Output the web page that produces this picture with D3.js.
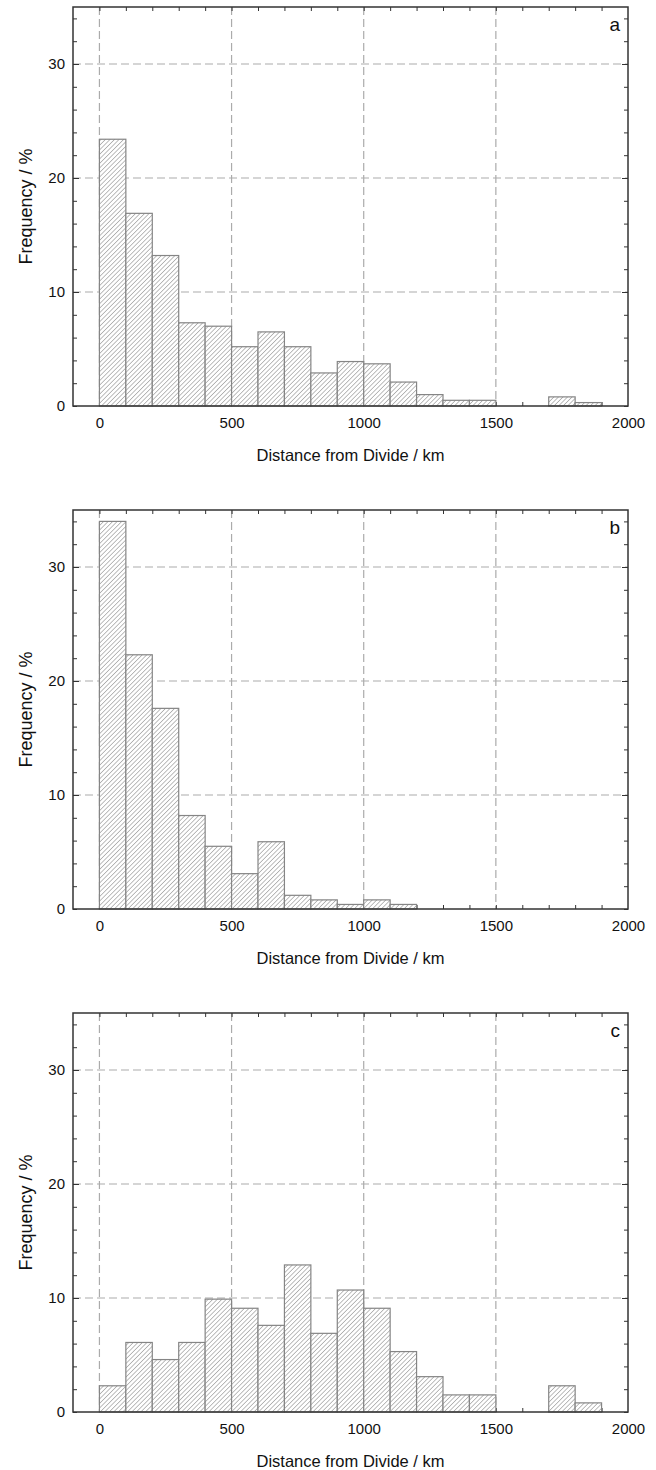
<!DOCTYPE html>
<html>
<head>
<meta charset="utf-8">
<script src="https://cdn.jsdelivr.net/npm/d3@7"></script>
<style>
	body { margin: 0; background: #fff; }
	svg { display: block; font-family: "Liberation Sans", Arial, sans-serif; }
</style>
</head>
<body>
<script>
// bin starts (km), each bin is 100 km wide
var binStarts = [0, 100, 200, 300, 400, 500, 600, 700, 800, 900, 1000, 1100, 1200, 1300, 1400, 1500, 1600, 1700, 1800];
var BINWIDTH = 100;

// frequency (%) per bin
var freqA = [23.4, 16.9, 13.2, 7.3, 7.0, 5.2, 6.5, 5.2, 2.9, 3.9, 3.7, 2.1, 1.0, 0.5, 0.5, 0, 0, 0.8, 0.3];
var freqB = [34.0, 22.3, 17.6, 8.2, 5.5, 3.1, 5.9, 1.2, 0.8, 0.4, 0.8, 0.4, 0, 0, 0, 0, 0, 0, 0];
var freqC = [2.3, 6.1, 4.6, 6.1, 9.9, 9.1, 7.6, 12.9, 6.9, 10.7, 9.1, 5.3, 3.1, 1.5, 1.5, 0, 0, 2.3, 0.8];

var panelLetters = ['a', 'b', 'c'];
var xTickLabels = [0, 500, 1000, 1500, 2000];
var yTickLabels = [0, 10, 20, 30];

var WIDTH = 656, HEIGHT = 1470;
var LEFT = 73, RIGHT = 628;
var PANEL_H = 399;
var PANEL_TOPS = [7, 510, 1013];
var FONT = '"Liberation Sans", Arial, sans-serif';

var svg = d3.select('body').append('svg')
	.attr('width', WIDTH)
	.attr('height', HEIGHT);

// hatch pattern for the bars ( "/" lines )
var defs = svg.append('defs');
var pat = defs.append('pattern')
	.attr('id', 'hatch')
	.attr('patternUnits', 'userSpaceOnUse')
	.attr('width', 3.2)
	.attr('height', 3.2)
	.attr('patternTransform', 'rotate(45)');
pat.append('rect').attr('width', 3.2).attr('height', 3.2).attr('fill', '#fff');
pat.append('line')
	.attr('x1', 0).attr('y1', 0).attr('x2', 0).attr('y2', 3.2)
	.attr('stroke', '#7c7c7c')
	.attr('stroke-width', 1);

var x = d3.scaleLinear().domain([-100, 2000]).range([LEFT, RIGHT]);

function tickStyle(s) {
	s.select('.domain').remove();
	s.selectAll('line').attr('stroke', '#333');
}

function labelStyle(s) {
	s.select('.domain').remove();
	s.selectAll('text').attr('font-size', 15).attr('fill', '#111').attr('font-family', FONT);
}

function drawPanel(values, letter, top) {
	var bottom = top + PANEL_H;
	var y = d3.scaleLinear().domain([0, 35]).range([bottom, top]);
	var g = svg.append('g');

	// dashed grid
	g.selectAll('.vgrid')
		.data([0, 500, 1000, 1500])
		.enter().append('line')
		.attr('x1', function(d) { return x(d); })
		.attr('x2', function(d) { return x(d); })
		.attr('y1', top).attr('y2', bottom)
		.attr('stroke', '#ababab')
		.attr('stroke-width', 1.2)
		.attr('stroke-dasharray', '8,4');
	g.selectAll('.hgrid')
		.data([10, 20, 30])
		.enter().append('line')
		.attr('x1', LEFT).attr('x2', RIGHT)
		.attr('y1', function(d) { return y(d); })
		.attr('y2', function(d) { return y(d); })
		.attr('stroke', '#ababab')
		.attr('stroke-width', 1.2)
		.attr('stroke-dasharray', '8,4');

	// inward minor ticks on all four sides
	var xMinor = d3.range(0, 2000, 100);
	var yMinor = d3.range(0, 35, 2);

	g.append('g')
		.attr('transform', 'translate(0,' + top + ')')
		.call(d3.axisTop(x).tickValues(xMinor).tickSize(-4).tickFormat(''))
		.call(tickStyle);
	g.append('g')
		.attr('transform', 'translate(0,' + bottom + ')')
		.call(d3.axisBottom(x).tickValues(xMinor).tickSize(-4).tickFormat(''))
		.call(tickStyle);
	g.append('g')
		.attr('transform', 'translate(' + LEFT + ',0)')
		.call(d3.axisLeft(y).tickValues(yMinor).tickSize(-4).tickFormat(''))
		.call(tickStyle);
	g.append('g')
		.attr('transform', 'translate(' + RIGHT + ',0)')
		.call(d3.axisRight(y).tickValues(yMinor).tickSize(-4).tickFormat(''))
		.call(tickStyle);
	// longer ticks at the labelled values
	g.append('g')
		.attr('transform', 'translate(' + LEFT + ',0)')
		.call(d3.axisLeft(y).tickValues([10, 20, 30]).tickSize(-6).tickFormat(''))
		.call(tickStyle);
	g.append('g')
		.attr('transform', 'translate(' + RIGHT + ',0)')
		.call(d3.axisRight(y).tickValues([10, 20, 30]).tickSize(-6).tickFormat(''))
		.call(tickStyle);

	// bars
	var bars = binStarts.map(function(b, i) { return { x0: b, v: values[i] }; })
		.filter(function(d) { return d.v > 0; });
	g.selectAll('.bar')
		.data(bars)
		.enter().append('rect')
		.attr('x', function(d) { return x(d.x0); })
		.attr('width', function(d) { return x(d.x0 + BINWIDTH) - x(d.x0); })
		.attr('y', function(d) { return y(d.v); })
		.attr('height', function(d) { return bottom - y(d.v); })
		.attr('fill', 'url(#hatch)')
		.attr('stroke', '#858585')
		.attr('stroke-width', 1.2);

	// frame
	g.append('rect')
		.attr('x', LEFT).attr('y', top)
		.attr('width', RIGHT - LEFT).attr('height', PANEL_H)
		.attr('fill', 'none')
		.attr('stroke', '#333')
		.attr('stroke-width', 1.5);

	// tick labels
	g.append('g')
		.attr('transform', 'translate(0,' + bottom + ')')
		.call(d3.axisBottom(x).tickValues(xTickLabels).tickSize(0).tickPadding(11).tickFormat(d3.format('d')))
		.call(labelStyle);
	g.append('g')
		.attr('transform', 'translate(' + LEFT + ',0)')
		.call(d3.axisLeft(y).tickValues(yTickLabels).tickSize(0).tickPadding(8).tickFormat(d3.format('d')))
		.call(labelStyle);

	// axis titles
	g.append('text')
		.attr('x', (LEFT + RIGHT) / 2)
		.attr('y', bottom + 55)
		.attr('text-anchor', 'middle')
		.attr('font-size', 16.5)
		.attr('fill', '#111')
		.text('Distance from Divide / km');
	g.append('text')
		.attr('transform', 'translate(32,' + (top + PANEL_H / 2) + ') rotate(-90)')
		.attr('text-anchor', 'middle')
		.attr('font-size', 18)
		.attr('fill', '#111')
		.text('Frequency / %');

	// panel letter
	g.append('text')
		.attr('x', RIGHT - 8)
		.attr('y', top + 24)
		.attr('text-anchor', 'end')
		.attr('font-size', 19)
		.attr('fill', '#111')
		.text(letter);
}

drawPanel(freqA, panelLetters[0], PANEL_TOPS[0]);
drawPanel(freqB, panelLetters[1], PANEL_TOPS[1]);
drawPanel(freqC, panelLetters[2], PANEL_TOPS[2]);
</script>
</body>
</html>
